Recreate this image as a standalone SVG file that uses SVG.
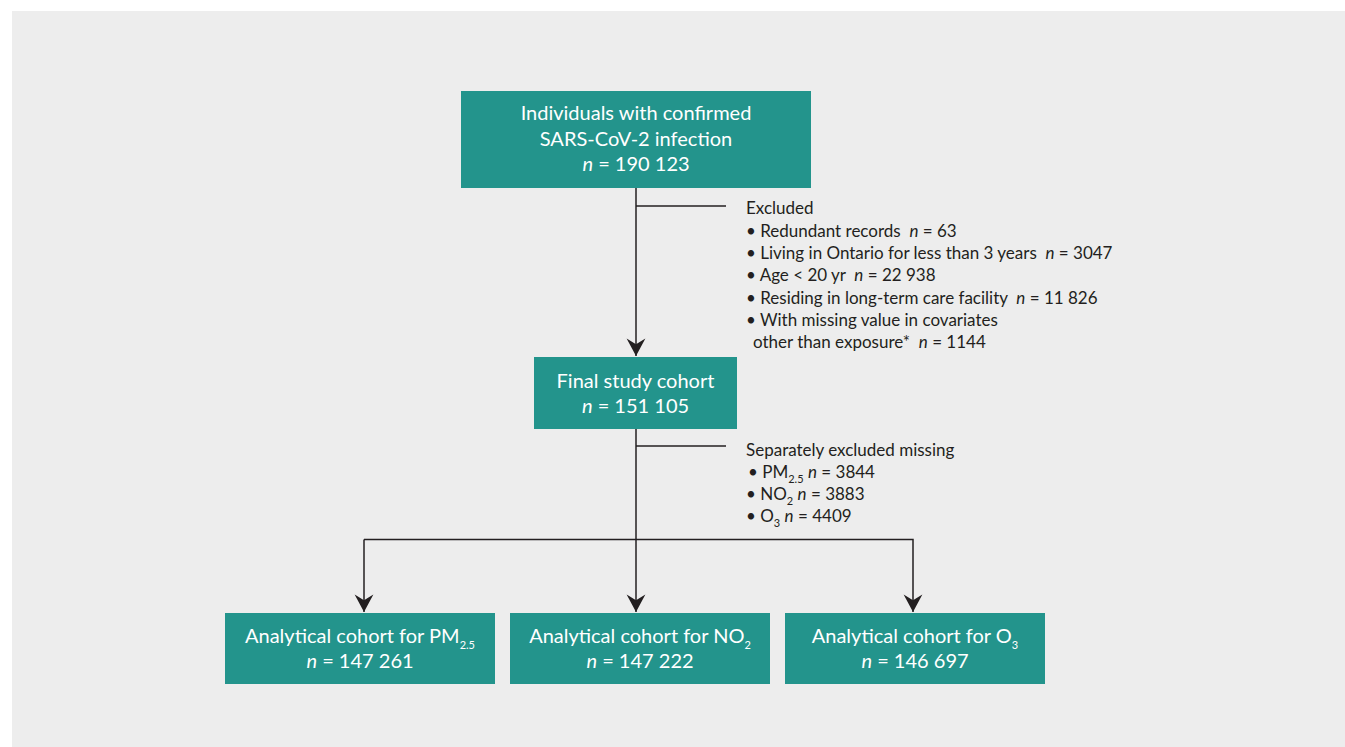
<svg xmlns="http://www.w3.org/2000/svg" width="1345" height="747" viewBox="0 0 1345 747">
<defs>
<marker id="arr" markerUnits="userSpaceOnUse" markerWidth="20" markerHeight="20" refX="15" refY="8" orient="auto" viewBox="0 0 16 16">
<path d="M15,8 L1,0.5 L5.5,8 L1,15.5 Z" fill="#231f20"/>
</marker>
<style>
.box{fill:#23948c}
.bt{font-family:Lato,"Liberation Sans",sans-serif;font-size:20px;fill:#ffffff;text-anchor:middle}
.st{font-family:Lato,"Liberation Sans",sans-serif;font-size:17px;fill:#231f20;white-space:pre}
.ln{fill:none;stroke:#231f20;stroke-width:1.5}
.it{font-style:italic}
.sub{font-size:11px}
</style>
</defs>
<rect x="12" y="11" width="1333" height="736" fill="#ededed"/>
<g id="connectors">
<line class="ln" x1="636" y1="188" x2="636" y2="356" marker-end="url(#arr)"/>
<line class="ln" x1="636" y1="206" x2="726" y2="206"/>
<line class="ln" x1="636" y1="429" x2="636" y2="612" marker-end="url(#arr)"/>
<line class="ln" x1="636" y1="446" x2="726" y2="446"/>
<polyline class="ln" points="364,539.5 913,539.5 913,612" marker-end="url(#arr)"/>
<line class="ln" x1="364" y1="539.5" x2="364" y2="612" marker-end="url(#arr)"/>
</g>
<g id="n1">
<rect class="box" x="461" y="91" width="350" height="97"/>
<text class="bt" x="636" y="120">Individuals with confirmed</text>
<text class="bt" x="636" y="145.5">SARS-CoV-2 infection</text>
<text class="bt" x="636" y="171"><tspan class="it">n</tspan> = 190 123</text>
</g>
<g id="excluded" xml:space="preserve">
<text class="st" x="746" y="214">Excluded</text>
<text class="st" x="746" y="236.5">• Redundant records  <tspan class="it">n</tspan> = 63</text>
<text class="st" x="746" y="259">• Living in Ontario for less than 3 years  <tspan class="it">n</tspan> = 3047</text>
<text class="st" x="746" y="281">• Age &lt; 20 yr  <tspan class="it">n</tspan> = 22 938</text>
<text class="st" x="746" y="303.5">• Residing in long-term care facility  <tspan class="it">n</tspan> = 11 826</text>
<text class="st" x="746" y="325.5">• With missing value in covariates</text>
<text class="st" x="753" y="347.5">other than exposure*  <tspan class="it">n</tspan> = 1144</text>
</g>
<g id="n2">
<rect class="box" x="534" y="357" width="203" height="72"/>
<text class="bt" x="635.5" y="388">Final study cohort</text>
<text class="bt" x="635.5" y="412.5"><tspan class="it">n</tspan> = 151 105</text>
</g>
<g id="missing">
<text class="st" x="746" y="456">Separately excluded missing</text>
<text class="st" x="748" y="478">• PM<tspan class="sub" dy="5">2.5</tspan><tspan dy="-5"> </tspan><tspan class="it">n</tspan> = 3844</text>
<text class="st" x="746" y="499.5">• NO<tspan class="sub" dy="5">2</tspan><tspan dy="-5"> </tspan><tspan class="it">n</tspan> = 3883</text>
<text class="st" x="746" y="521.5">• O<tspan class="sub" dy="5">3</tspan><tspan dy="-5"> </tspan><tspan class="it">n</tspan> = 4409</text>
</g>
<g id="n3">
<rect class="box" x="225" y="613" width="270" height="71"/>
<text class="bt" x="360" y="643">Analytical cohort for PM<tspan class="sub" dy="6">2.5</tspan></text>
<text class="bt" x="360" y="668"><tspan class="it">n</tspan> = 147 261</text>
</g>
<g id="n4">
<rect class="box" x="510" y="613" width="260" height="71"/>
<text class="bt" x="640" y="643">Analytical cohort for NO<tspan class="sub" dy="6">2</tspan></text>
<text class="bt" x="640" y="668"><tspan class="it">n</tspan> = 147 222</text>
</g>
<g id="n5">
<rect class="box" x="785" y="613" width="260" height="71"/>
<text class="bt" x="915" y="643">Analytical cohort for O<tspan class="sub" dy="6">3</tspan></text>
<text class="bt" x="915" y="668"><tspan class="it">n</tspan> = 146 697</text>
</g>
</svg>
